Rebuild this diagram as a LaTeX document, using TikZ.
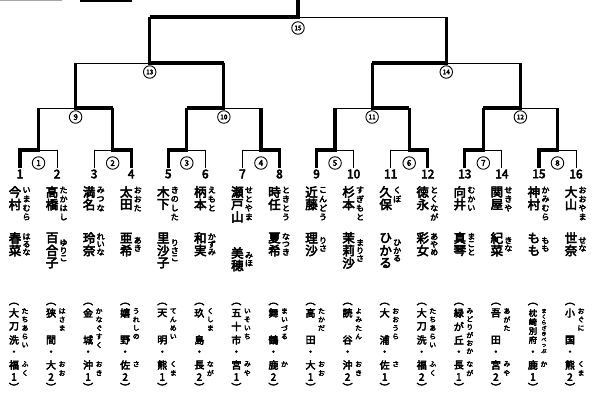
\documentclass[tikz,border=0pt]{standalone}
\usepackage{fontspec}
\newfontfamily\jp{Noto Sans CJK JP}[FakeBold=4]
\usetikzlibrary{calc}

\newcommand\countitems[2]{\gdef#1{0}\foreach \ch in {#2}{\pgfmathtruncatemacro\tmpn{#1+1}\global\let#1\tmpn}}
\newcommand\vseq[6]{\foreach \ch [count=\kk] in {#6}{\pgfmathsetmacro\yy{#3+(\kk-1)*#4}\node[#5] (#1-\kk) at ({#2},\yy) {\ch};}}
\newcommand\vcent[6]{\countitems\nnn{#6}\foreach \ch [count=\kk] in {#6}{\pgfmathsetmacro\yy{#3+(\kk-(\nnn+1)/2)*#4}\node[#5] (#1-\kk) at ({#2},\yy) {\ch};}}
\newcommand\vdist[6]{\countitems\nnn{#6}\foreach \ch [count=\kk] in {#6}{\pgfmathsetmacro\yy{\nnn>1 ? #3+(\kk-1)*(#4-#3)/(\nnn-1) : #3}\node[#5] (#1-\kk) at ({#2},\yy) {\ch};}}

\newcommand\player[7]{%
 \node[numf] (n#1) at ({#2},174) {#1};
 \vseq{sn#1}{#2-5}{192}{12.5}{kan}{#3}
 \vseq{sf#1}{#2+6.5}{190}{9}{furi}{#4}
 \countitems\nk{#5}
 \pgfmathsetmacro\gc{#7+(\nk-1)*6.25}
 \vseq{gn#1}{#2-5}{#7}{12.5}{kan}{#5}
 \vcent{gf#1}{#2+6.5}{\gc}{7.8}{furi}{#6}}

% #8 = style of school name, #9 = style of its kana
\newcommand\school[9]{%
 \node[sch] (po#1) at ({#2-6},304) {︵};
 \vdist{sc#1}{#2-6}{313}{340}{#8}{#3}
 \countitems\nf{#4}
 \pgfmathsetmacro\fsp{min(8.5,40/max(\nf-1,1))}
 \vseq{scf#1}{#2+5}{311}{\fsp}{#9}{#4}
 \node[sch] (dot#1) at ({#2-6},353) {・};
 \node[sch] (pr#1) at ({#2-6},365) {#5};
 \vseq{prf#1}{#2+5}{364}{9}{sfuri}{#6}
 \node[sch] (dg#1) at ({#2-6},377) {#7};
 \node[sch] (pc#1) at ({#2-6},387) {︶};}

\tikzset{
 ln/.style={line width=0.9pt},
 win/.style={line width=3.2pt},
 kan/.style={font=\jp\fontsize{12.5}{12.5}\selectfont, inner sep=0pt},
 furi/.style={font=\jp\fontsize{8}{8}\selectfont, inner sep=0pt},
 numf/.style={font=\jp\fontsize{12}{12}\selectfont, inner sep=0pt},
 sch/.style={font=\jp\fontsize{10}{10}\selectfont, inner sep=0pt},
 schs/.style={font=\jp\fontsize{8.3}{8.3}\selectfont, inner sep=0pt},
 sfuri/.style={font=\jp\fontsize{6.8}{6.8}\selectfont, inner sep=0pt},
 sfurismall/.style={font=\jp\fontsize{5.2}{5.2}\selectfont, inner sep=0pt},
 circ/.style={circle, draw, line width=0.9pt, minimum size=12.5pt, inner sep=0pt, fill=white, font=\jp\fontsize{8}{8}\selectfont},
 circw/.style={circ, font=\jp\fontsize{6.5}{6.5}\selectfont},
}

\begin{document}
\begin{tikzpicture}[x=1pt,y=-1pt]
\useasboundingbox (0,0) rectangle (600,392);
% remnant line at top left
\coordinate (ra) at (0,0.8); \coordinate (rb) at (62,0.8);
\coordinate (rc) at (80,0.8); \coordinate (rd) at (132,0.8);
\draw[gray!70, line width=1pt] (ra) -- (rb);
\draw[line width=1.6pt] (rc) -- (rd);

% player coordinates
\foreach \i/\xx in {1/20,2/57.07,3/94.13,4/131.2,5/168.27,6/205.33,7/242.4,8/279.47,9/316.53,10/353.6,11/390.67,12/427.73,13/464.8,14/501.87,15/538.93,16/576}{
 \coordinate (b\i) at (\xx,168); \coordinate (t\i) at (\xx,150);}
\foreach \m/\xx in {1/38.53,2/112.67,3/186.8,4/260.93,5/335.07,6/409.2,7/483.33,8/557.47}{
 \coordinate (m\m) at (\xx,150); \coordinate (u\m) at (\xx,108);}
\foreach \m/\xx in {9/75.6,10/223.87,11/372.13,12/520.4}{
 \coordinate (m\m) at (\xx,108); \coordinate (u\m) at (\xx,63);}
\foreach \m/\xx in {13/149.73,14/446.27}{
 \coordinate (m\m) at (\xx,63); \coordinate (u\m) at (\xx,17);}
\coordinate (m15) at (298,17); \coordinate (u15) at (298,0);

% thin bracket
\foreach \m in {1,...,8}{
 \pgfmathtruncatemacro\l{2*\m-1}\pgfmathtruncatemacro\r{2*\m}
 \draw[ln] (b\l) -- (t\l) -- (t\r) -- (b\r);
 \draw[ln] (m\m) -- (u\m);}
\draw[ln] (u1) -- (u2);
\draw[ln] (u3) -- (u4);
\draw[ln] (u5) -- (u6);
\draw[ln] (u7) -- (u8);
\foreach \m in {9,...,12}{\draw[ln] (m\m) -- (u\m);}
\draw[ln] (u9) -- (u10);
\draw[ln] (u11) -- (u12);
\draw[ln] (m13) -- (u13); \draw[ln] (m14) -- (u14);
\draw[ln] (u13) -- (u14);
\draw[ln] (m15) -- (u15);

% winners
\draw[win] (b1) -- (t1) -- (m1) -- (u1);
\draw[win] (b4) -- (t4) -- (m2) -- (u2);
\draw[win] (b5) -- (t5) -- (m3) -- (u3);
\draw[win] (b8) -- (t8) -- (m4) -- (u4);
\draw[win] (b9) -- (t9) -- (m5) -- (u5);
\draw[win] (b12) -- (t12) -- (m6) -- (u6);
\draw[win] (b13) -- (t13) -- (m7) -- (u7);
\draw[win] (b15) -- (t15) -- (m8) -- (u8);
\draw[win] (u2) -- (m9) -- (u9);
\draw[win] (u3) -- (m10) -- (u10);
\draw[win] (u6) -- (m11) -- (u11);
\draw[win] (u7) -- (m12) -- (u12);
\draw[win] (u10) -- (m13) -- (u13);
\draw[win] (u11) -- (m14) -- (u14);
\draw[win] (u13) -- (m15) -- (u15);

% circled match numbers
\foreach \m/\xx in {1/38.53,2/112.67,3/186.8,4/260.93,5/335.07,6/409.2,7/483.33,8/557.47}{
 \node[circ] (c\m) at (\xx,163) {\m};}
\node[circ] (c9) at (75.6,117) {9};
\node[circw] (c10) at (223.87,117) {10};
\node[circw] (c11) at (372.13,117) {11};
\node[circw] (c12) at (520.4,117) {12};
\node[circw] (c13) at (149.73,72) {13};
\node[circw] (c14) at (446.27,72) {14};
\node[circw] (c15) at (298,28) {15};

% players
\player{1}{20}{今,村}{い,ま,む,ら}{春,菜}{は,る,な}{238}
\player{2}{57.07}{高,橋}{た,か,は,し}{百,合,子}{ゆ,り,こ}{238}
\player{3}{94.13}{満,名}{み,つ,な}{玲,奈}{れ,い,な}{238}
\player{4}{131.2}{太,田}{お,お,た}{亜,希}{あ,き}{238}
\player{5}{168.27}{木,下}{き,の,し,た}{里,沙,子}{り,さ,こ}{238}
\player{6}{205.33}{柄,本}{え,も,と}{和,実}{か,ず,み}{238}
\player{7}{242.4}{瀬,戸,山}{せ,と,や,ま}{美,穂}{み,ほ}{253}
\player{8}{279.47}{時,任}{と,き,と,う}{夏,希}{な,つ,き}{238}
\player{9}{316.53}{近,藤}{こ,ん,ど,う}{理,沙}{り,さ}{238}
\player{10}{353.6}{杉,本}{す,ぎ,も,と}{茉,莉,沙}{ま,り,さ}{238}
\player{11}{390.67}{久,保}{く,ぼ}{ひ,か,る}{ひ,か,る}{238}
\player{12}{427.73}{徳,永}{と,く,な,が}{彩,女}{あ,や,め}{238}
\player{13}{464.8}{向,井}{む,か,い}{真,琴}{ま,こ,と}{238}
\player{14}{501.87}{関,屋}{せ,き,や}{紀,菜}{き,な}{238}
\player{15}{538.93}{神,村}{か,み,む,ら}{も,も}{も,も}{238}
\player{16}{576}{大,山}{お,お,や,ま}{世,奈}{せ,な}{238}

% schools
\school{1}{20}{大,刀,洗}{た,ち,あ,ら,い}{福}{ふ,く}{1}{sch}{sfuri}
\school{2}{57.07}{狭,間}{は,さ,ま}{大}{お,お}{2}{sch}{sfuri}
\school{3}{94.13}{金,城}{か,な,ぐ,す,く}{沖}{お,き}{1}{sch}{sfuri}
\school{4}{131.2}{嬉,野}{う,れ,し,の}{佐}{さ}{2}{sch}{sfuri}
\school{5}{168.27}{天,明}{て,ん,め,い}{熊}{く,ま}{1}{sch}{sfuri}
\school{6}{205.33}{玖,島}{く,し,ま}{長}{な,が}{2}{sch}{sfuri}
\school{7}{242.4}{五,十,市}{い,そ,い,ち}{宮}{み,や}{1}{sch}{sfuri}
\school{8}{279.47}{舞,鶴}{ま,い,づ,る}{鹿}{か}{2}{sch}{sfuri}
\school{9}{316.53}{高,田}{た,か,だ}{大}{お,お}{1}{sch}{sfuri}
\school{10}{353.6}{読,谷}{よ,み,た,ん}{沖}{お,き}{2}{sch}{sfuri}
\school{11}{390.67}{大,浦}{お,お,う,ら}{佐}{さ}{1}{sch}{sfuri}
\school{12}{427.73}{大,刀,洗}{た,ち,あ,ら,い}{福}{ふ,く}{2}{sch}{sfuri}
\school{13}{464.8}{緑,が,丘}{み,ど,り,が,お,か}{長}{な,が}{1}{sch}{sfuri}
\school{14}{501.87}{吾,田}{あ,が,た}{宮}{み,や}{2}{sch}{sfuri}
\school{15}{538.93}{枕,崎,別,府}{ま,く,ら,ざ,き,べ,っ,ぷ}{鹿}{か}{1}{schs}{sfurismall}
\school{16}{576}{小,国}{お,ぐ,に}{熊}{く,ま}{2}{sch}{sfuri}
\end{tikzpicture}
\end{document}
